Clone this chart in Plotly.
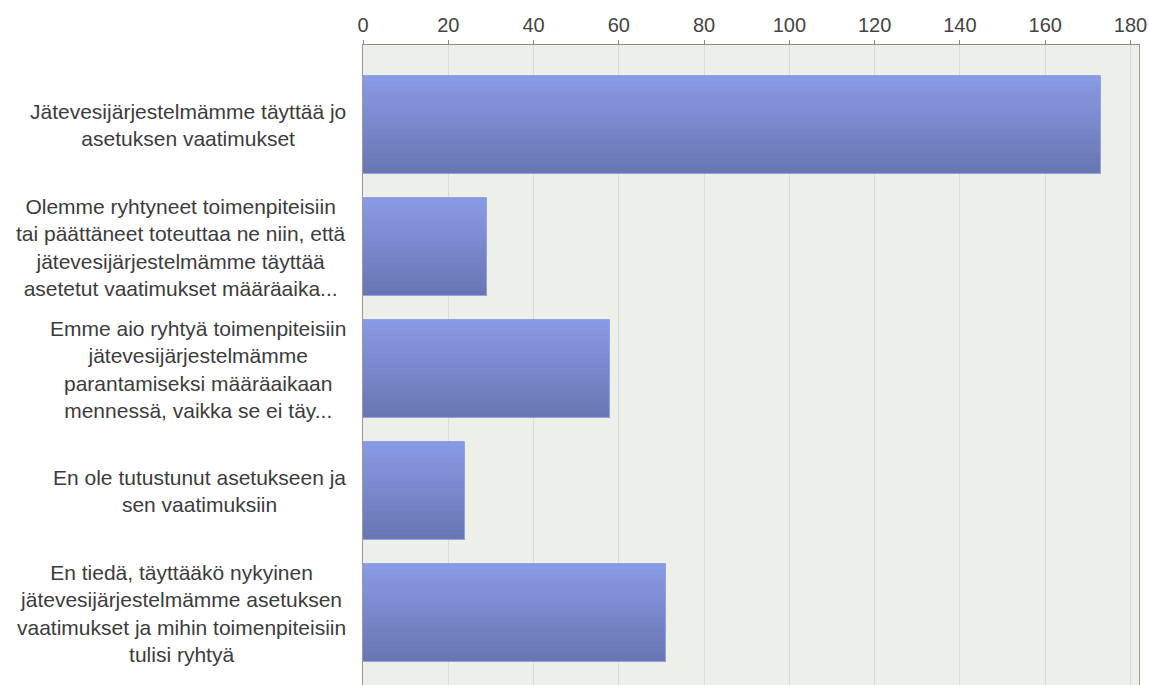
import plotly.graph_objects as go

categories = [
    "Jätevesijärjestelmämme täyttää jo<br>asetuksen vaatimukset",
    "Olemme ryhtyneet toimenpiteisiin<br>tai päättäneet toteuttaa ne niin, että<br>jätevesijärjestelmämme täyttää<br>asetetut vaatimukset määräaika...",
    "Emme aio ryhtyä toimenpiteisiin<br>jätevesijärjestelmämme<br>parantamiseksi määräaikaan<br>mennessä, vaikka se ei täy...",
    "En ole tutustunut asetukseen ja<br>sen vaatimuksiin",
    "En tiedä, täyttääkö nykyinen<br>jätevesijärjestelmämme asetuksen<br>vaatimukset ja mihin toimenpiteisiin<br>tulisi ryhtyä",
]
values = [173, 29, 58, 24, 71]
x_ticks = [0, 20, 40, 60, 80, 100, 120, 140, 160, 180]

positions = list(range(len(categories)))

fig = go.Figure()

# vertical gradient emulated by overlaying thin slices of the same bars
n_slices = 20
bar_w = 0.8
top_rgb = (0x88, 0x9A, 0xE3)
bot_rgb = (0x69, 0x76, 0xB4)
for k in range(n_slices):
    t = k / (n_slices - 1)
    c = tuple(round(a + (b - a) * t) for a, b in zip(top_rgb, bot_rgb))
    fig.add_trace(go.Bar(
        y=positions, x=values, orientation="h",
        width=bar_w / n_slices + 0.012 if k < n_slices - 1 else bar_w / n_slices,
        offset=-bar_w / 2 + k * bar_w / n_slices,
        marker=dict(color="rgb(%d,%d,%d)" % c, line=dict(width=0)),
        showlegend=False, hoverinfo="skip",
    ))
# outline
fig.add_trace(go.Bar(
    y=positions, x=values, orientation="h",
    width=bar_w, offset=-bar_w / 2,
    marker=dict(color="rgba(0,0,0,0)", line=dict(color="#93A2E2", width=1)),
    showlegend=False, hoverinfo="skip",
))

line_gap = 24.6
for i, lab in enumerate(categories):
    lines = lab.split("<br>")
    n = len(lines)
    for j, ln in enumerate(lines):
        fig.add_annotation(
            x=0, xref="paper", xanchor="right", xshift=-15,
            y=i, yref="y", yanchor="middle",
            yshift=-(j - (n - 1) / 2) * line_gap,
            text=ln, showarrow=False, align="center",
            font=dict(family="Liberation Sans, Arial, sans-serif", size=21, color="#3c3c3c"),
        )

# center lines within each label block: compute by right-aligning the block
# (annotations above are right-anchored; re-anchor each line to the block centre)
fig.layout.annotations = []
char_w = {}
for i, lab in enumerate(categories):
    lines = lab.split("<br>")
    n = len(lines)
    fig.add_annotation(
        x=0, xref="paper", xanchor="right", xshift=-15,
        y=i, yref="y", yanchor="middle",
        text=lab, showarrow=False, align="center",
        font=dict(family="Liberation Sans, Arial, sans-serif", size=21, color="#3c3c3c"),
    )

fig.update_layout(
    width=1149, height=685,
    margin=dict(l=363, r=10, t=45, b=0),
    paper_bgcolor="white",
    plot_bgcolor="#EDF0E9",
    barmode="overlay",
    bargap=0,
    font=dict(family="Liberation Sans, Arial, sans-serif", size=19, color="#444444"),
    xaxis=dict(
        side="top", range=[0, 182],
        tickvals=x_ticks, ticktext=[str(v) for v in x_ticks],
        showline=True, linecolor="#8c8c8c", linewidth=1,
        ticks="outside", ticklen=4, tickcolor="#8c8c8c",
        showgrid=True, gridcolor="#DADDD7", gridwidth=1,
        zeroline=False,
        tickfont=dict(size=20, color="#444444"),
    ),
    yaxis=dict(
        range=[4.59, -0.656],
        showticklabels=False, ticks="",
        showline=True, linecolor="#9a9a9a", linewidth=1, mirror=True,
        showgrid=False, zeroline=False,
    ),
)

fig.write_html("out.html")
